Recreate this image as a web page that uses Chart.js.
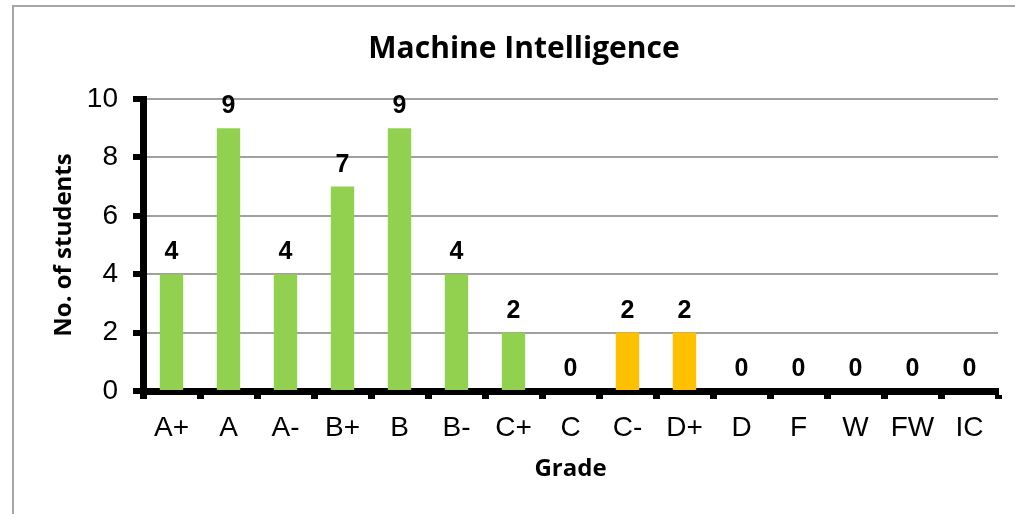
<!DOCTYPE html>
<html>
<head>
<meta charset="utf-8">
<title>Machine Intelligence</title>
<script src="https://cdn.jsdelivr.net/npm/chart.js@4/dist/chart.umd.min.js"></script>
<style>
  html, body { margin: 0; padding: 0; background: #fff; overflow: hidden; }
  #frame {
    position: absolute;
    left: 12px;
    top: 5px;
    width: 1020px;
    height: 520px;
    border-left: 2px solid #a6a6a6;
    border-top: 2px solid #a6a6a6;
  }
  #grade-chart { display: block; }
</style>
</head>
<body>
<div id="frame">
  <canvas id="grade-chart" width="1020" height="507"></canvas>
</div>
<script>
// data
const grades = ["A+", "A", "A-", "B+", "B", "B-", "C+", "C", "C-", "D+", "D", "F", "W", "FW", "IC"];
const students = [4, 9, 4, 7, 9, 4, 2, 0, 2, 2, 0, 0, 0, 0, 0];
const orangeGrades = ["C-", "D+"];
const yTicks = [0, 2, 4, 6, 8, 10];

const GREEN = "#92d050";
const ORANGE = "#ffc000";

// numbers on top of every bar
const barLabels = {
  id: "barLabels",
  afterDatasetsDraw(chart) {
    const ctx = chart.ctx;
    const meta = chart.getDatasetMeta(0);
    ctx.save();
    ctx.font = 'bold 25px "Liberation Sans", Arial, sans-serif';
    ctx.fillStyle = "#000";
    ctx.textAlign = "center";
    ctx.textBaseline = "alphabetic";
    meta.data.forEach((bar, i) => {
      ctx.fillText(String(students[i]), bar.x, bar.y - 15);
    });
    ctx.restore();
  }
};

const ctx = document.getElementById("grade-chart").getContext("2d");

new Chart(ctx, {
  type: "bar",
  data: {
    labels: grades,
    datasets: [{
      label: "No. of students",
      data: students,
      backgroundColor: grades.map(g => orangeGrades.includes(g) ? ORANGE : GREEN),
      borderWidth: 0,
      categoryPercentage: 1,
      barPercentage: 0.41
    }]
  },
  options: {
    responsive: false,
    animation: false,
    layout: { padding: { left: 36, right: 36, top: 0, bottom: 0 } },
    plugins: {
      legend: { display: false },
      tooltip: { enabled: false },
      title: {
        display: true,
        text: "Machine Intelligence",
        color: "#000",
        font: { family: "'Open Sans', sans-serif", size: 30, weight: "bold" },
        padding: { top: 24, bottom: 32 }
      }
    },
    scales: {
      x: {
        afterFit: scale => { scale.height = 123; },
        grid: {
          display: true,
          drawOnChartArea: false,
          drawTicks: true,
          tickLength: 8,
          tickWidth: 7,
          tickColor: "#000",
          offset: true
        },
        border: { display: true, color: "#000", width: 7 },
        ticks: {
          color: "#000",
          font: { family: "'Liberation Sans', Arial, sans-serif", size: 28 },
          padding: 12,
          maxRotation: 0,
          autoSkip: false
        },
        title: {
          display: true,
          text: "Grade",
          color: "#000",
          font: { family: "'Open Sans', sans-serif", size: 24, weight: "bold" },
          padding: { top: 0, bottom: 30 }
        }
      },
      y: {
        min: yTicks[0],
        max: yTicks[yTicks.length - 1],
        afterFit: scale => { scale.width = 93; },
        afterBuildTicks: scale => { scale.ticks = yTicks.map(v => ({ value: v })); },
        grid: {
          color: "#a0a0a0",
          lineWidth: 2,
          drawTicks: true,
          tickLength: 10,
          tickWidth: 6,
          tickColor: "#000"
        },
        border: { display: true, color: "#000", width: 7 },
        ticks: {
          color: "#000",
          font: { family: "'Liberation Sans', Arial, sans-serif", size: 28 },
          padding: 15
        },
        title: {
          display: true,
          text: "No. of students",
          color: "#000",
          font: { family: "'Open Sans', sans-serif", size: 24, weight: "bold" },
          padding: { top: 0, bottom: 0 }
        }
      }
    }
  },
  plugins: [barLabels]
});
</script>
</body>
</html>
